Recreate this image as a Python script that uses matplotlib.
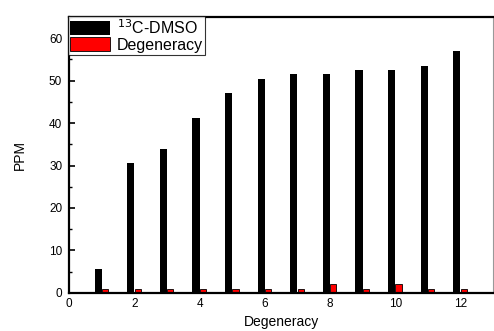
import numpy as np
import matplotlib
matplotlib.use("Agg")
import matplotlib.pyplot as plt
from matplotlib.ticker import MultipleLocator

plt.rcParams["font.family"] = ["Liberation Sans", "DejaVu Sans"]

degeneracy = [1, 2, 3, 4, 5, 6, 7, 8, 9, 10, 11, 12]
dmso_ppm = [5.6, 30.5, 33.9, 41.2, 47.1, 50.3, 51.6, 51.6, 52.4, 52.4, 53.4, 57.0]
degen_vals = [1, 1, 1, 1, 1, 1, 1, 2, 1, 2, 1, 1]

x = np.array(degeneracy)

fig = plt.figure(figsize=(4.94, 3.31), dpi=100)
ax = fig.add_axes([0.14, 0.115, 0.858, 0.834])

ax.bar(x - 0.11, dmso_ppm, width=0.22, color="black", label="$^{13}$C-DMSO")
ax.bar(x + 0.1, degen_vals, width=0.19, color="red", edgecolor="black",
       linewidth=0.6, label="Degeneracy")

ax.set_xlim(0, 13)
ax.set_ylim(0, 65)
ax.xaxis.set_major_locator(MultipleLocator(2))
ax.yaxis.set_major_locator(MultipleLocator(10))
ax.yaxis.set_minor_locator(MultipleLocator(5))
ax.tick_params(axis="y", which="both", direction="in", labelsize=8.5, pad=5)
ax.tick_params(axis="y", which="major", length=4, width=1.2)
ax.tick_params(axis="y", which="minor", length=2.5, width=1)
ax.tick_params(axis="x", length=0, labelsize=8.5, pad=4)

for s in ["left", "bottom", "top"]:
    ax.spines[s].set_linewidth(1.6)
ax.spines["right"].set_linewidth(0.8)
ax.spines["right"].set_color("#999999")

ax.set_xlabel("Degeneracy", fontsize=10, labelpad=3)
ax.set_ylabel("PPM", fontsize=10, labelpad=16)

leg = ax.legend(loc="upper left", bbox_to_anchor=(-0.003, 1.005), fontsize=11.5,
                frameon=True, fancybox=False, edgecolor="black",
                handlelength=2.5, handleheight=0.95, handletextpad=0.4,
                borderpad=0.15, labelspacing=0.05, borderaxespad=0)
leg.get_frame().set_linewidth(0.8)
leg.set_zorder(5)

fig.savefig("out.png", dpi=100)
